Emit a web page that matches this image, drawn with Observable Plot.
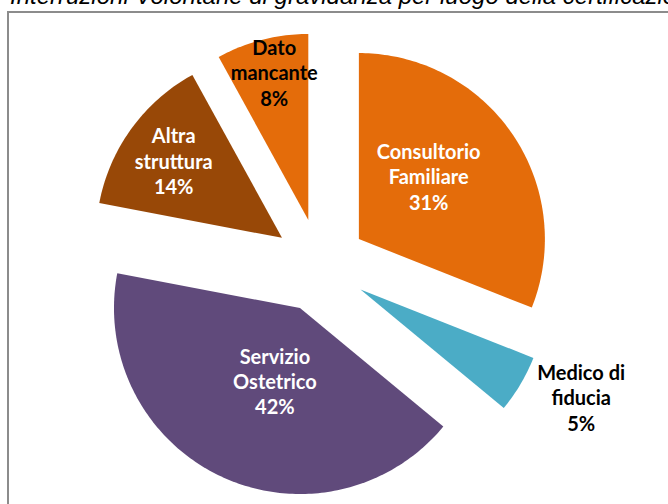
<!DOCTYPE html>
<html>
<head>
<meta charset="utf-8">
<script src="https://cdn.jsdelivr.net/npm/d3@7"></script>
<script src="https://cdn.jsdelivr.net/npm/@observablehq/plot@0.6"></script>
<style>
  html, body { margin: 0; padding: 0; background: #fff; }
  body { width: 668px; height: 504px; overflow: hidden; position: relative; }
  #title { position: absolute; left: 10px; top: -16px; white-space: nowrap;
    font: italic 24px "Liberation Sans", Arial, sans-serif; line-height: 24px; color: #000; }
  #chart { position: absolute; left: 7px; top: 11px; border-top: 2px solid #8c8c8c; border-left: 2px solid #8c8c8c; }
  #chart svg { display: block; }
</style>
</head>
<body>
<div id="title">Interruzioni Volontarie di gravidanza per luogo della certificazione</div>
<div id="chart"></div>
<script>
// ---- data ----
const categories = ["Consultorio Familiare", "Medico di fiducia", "Servizio Ostetrico", "Altra struttura", "Dato mancante"];
const labelTexts = ["Consultorio\nFamiliare", "Medico di\nfiducia", "Servizio\nOstetrico", "Altra\nstruttura", "Dato\nmancante"];
const shares = [31, 5, 42, 14, 8];
const colors = ["#E46C0A", "#4BACC6", "#604A7B", "#984807", "#E46C0A"];
const labelColors = ["#fff", "#000", "#fff", "#fff", "#000"];

// ---- layout (pixels / relative units) ----
const W = 659, H = 491;
const centerPx = [310.5, 252];
const radiusPx = 186;
const explode = 47 / 186;            // explosion distance, in radii
// label placement: angle (deg clockwise from top) and distance from slice apex, in radii
const labelAngle = [48, 116, 199, 305.5, 347];
const labelDist = [0.505, 1.32, 0.414, 0.715, 0.815];

const total = d3.sum(shares);
const rad = a => a * Math.PI / 180;
const dir = a => [Math.sin(rad(a)), Math.cos(rad(a))]; // y up

let start = 0;
const slices = shares.map((v, i) => {
  const a0 = start, a1 = start + v / total * 360;
  start = a1;
  const mid = (a0 + a1) / 2;
  const [ex, ey] = dir(mid).map(c => c * explode);
  return {i, a0, a1, mid, ex, ey};
});

const polyPoints = [];
for (const s of slices) {
  polyPoints.push({cat: categories[s.i], x: s.ex, y: s.ey});
  const n = Math.max(2, Math.ceil(s.a1 - s.a0));
  for (let k = 0; k <= n; k++) {
    const a = s.a0 + (s.a1 - s.a0) * k / n;
    const [dx, dy] = dir(a);
    polyPoints.push({cat: categories[s.i], x: s.ex + dx, y: s.ey + dy});
  }
}

const labels = slices.map(s => {
  const [dx, dy] = dir(labelAngle[s.i]);
  return {
    text: labelTexts[s.i] + "\n" + shares[s.i] + "%",
    x: s.ex + dx * labelDist[s.i],
    y: s.ey + dy * labelDist[s.i],
    color: labelColors[s.i]
  };
});

const xDomain = [-centerPx[0] / radiusPx, (W - centerPx[0]) / radiusPx];
const yDomain = [-(H - centerPx[1]) / radiusPx, centerPx[1] / radiusPx];

const chart = Plot.plot({
  width: W,
  height: H,
  margin: 0,
  x: {domain: xDomain, axis: null},
  y: {domain: yDomain, axis: null},
  color: {domain: categories, range: colors},
  marks: [
    Plot.line(polyPoints, {x: "x", y: "y", z: "cat", fill: "cat", stroke: null, curve: "linear-closed"}),
    Plot.text(labels, {
      x: "x", y: "y", text: "text", fill: d => d.color,
      fontSize: 20, fontWeight: "bold", fontFamily: "Lato, 'Open Sans', sans-serif",
      lineHeight: 1.27, textAnchor: "middle"
    })
  ]
});
document.getElementById("chart").appendChild(chart);
</script>
</body>
</html>
